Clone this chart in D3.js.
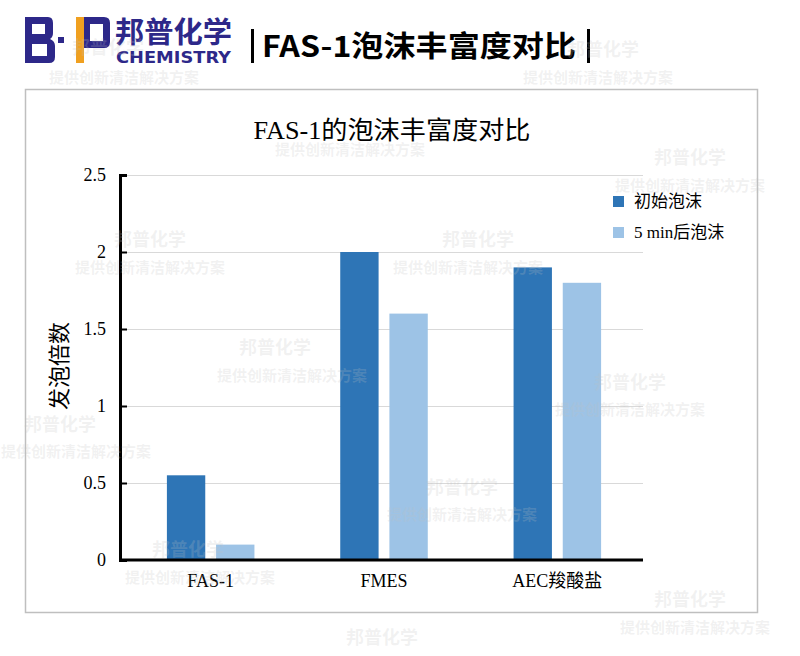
<!DOCTYPE html>
<html><head><meta charset="utf-8">
<script src="https://cdn.jsdelivr.net/npm/d3@7/dist/d3.min.js"></script>
<style>body{margin:0;background:#fff}svg{display:block}</style>
</head><body><svg id="c" width="800" height="656"></svg>
<script>
const categories = ["FAS-1", "FMES", "AEC羧酸盐"];
const seriesNames = ["初始泡沫", "5 min后泡沫"];
const initialFoam = [0.55, 2.0, 1.9];
const foamAfter5min = [0.1, 1.6, 1.8];
const yTicks = [0, 0.5, 1, 1.5, 2, 2.5];
const yTickLabels = ["0", "0.5", "1", "1.5", "2", "2.5"];
const colors = ["#2e75b6", "#9dc3e6"];

(function () {
const svg = d3.select("#c");
const serif = "'Liberation Serif','Times New Roman','Noto Sans CJK SC',serif";
const sans = "'Noto Sans CJK SC','DejaVu Sans',sans-serif";

// ---- header logo ----
const navy = "#2d2889";
svg.append("path").attr("fill", navy).attr("fill-rule", "evenodd")
  .attr("d", "M25,17 H48 Q53,17 53,23 V33 Q53,37 50,39 Q55,41 55,46 V57 Q55,63 49,63 H25 Z M32,24 V34 H45 V24 Z M32,44 V56 H47 V44 Z");
svg.append("rect").attr("x", 58).attr("y", 37).attr("width", 6).attr("height", 6).attr("fill", navy);
svg.append("rect").attr("x", 76).attr("y", 17).attr("width", 8).attr("height", 46).attr("fill", "#f0a020");
svg.append("path").attr("fill", navy).attr("fill-rule", "evenodd")
  .attr("d", "M84,17 H104 Q110,17 110,23 V42 Q110,48 104,48 H84 Z M90,24 V41 H103 V24 Z");
svg.append("text").attr("x", 115).attr("y", 43).attr("font-family", sans).attr("font-weight", "bold")
  .attr("font-size", 29).attr("fill", navy).attr("textLength", 117).attr("lengthAdjust", "spacingAndGlyphs").text("邦普化学");
svg.append("text").attr("x", 116).attr("y", 63).attr("font-family", "'DejaVu Sans',sans-serif").attr("font-weight", "bold")
  .attr("font-size", 15).attr("fill", navy).attr("textLength", 115).attr("lengthAdjust", "spacingAndGlyphs").text("CHEMISTRY");
// header title
svg.append("rect").attr("x", 251).attr("y", 29).attr("width", 3).attr("height", 34).attr("fill", "#000");
svg.append("rect").attr("x", 587).attr("y", 29).attr("width", 3).attr("height", 34).attr("fill", "#000");
svg.append("text").attr("x", 262).attr("y", 57).attr("font-family", sans).attr("font-weight", "bold")
  .attr("font-size", 29).attr("fill", "#000").attr("textLength", 314).attr("lengthAdjust", "spacingAndGlyphs")
  .text("FAS-1泡沫丰富度对比");

// ---- frame ----
svg.append("rect").attr("x", 25.5).attr("y", 89.5).attr("width", 732).attr("height", 523)
  .attr("fill", "none").attr("stroke", "#bfbfbf").attr("stroke-width", 1.5);

// ---- chart ----
const pLeft = 120, pRight = 643, pTop = 175, pBottom = 560;
const y = d3.scaleLinear().domain([0, 2.5]).range([pBottom, pTop]);
const x0 = d3.scaleBand().domain(categories).range([pLeft + 4, pRight + 1]).paddingInner(0.495).paddingOuter(0.2475);
const x1 = d3.scaleBand().domain(seriesNames).range([0, x0.bandwidth()]).paddingInner(0.22);

// gridlines
svg.append("g").selectAll("line").data(yTicks.filter(d => d > 0)).join("line")
  .attr("x1", pLeft).attr("x2", pRight).attr("y1", d => y(d) + 0.5).attr("y2", d => y(d) + 0.5)
  .attr("stroke", "#d9d9d9").attr("stroke-width", 1);

// bars
const data = categories.map((c, i) => ({ c, vals: [initialFoam[i], foamAfter5min[i]] }));
svg.append("g").selectAll("g").data(data).join("g")
  .attr("transform", d => `translate(${x0(d.c)},0)`)
  .selectAll("rect").data(d => d.vals.map((v, j) => ({ v, s: seriesNames[j], j }))).join("rect")
  .attr("x", d => x1(d.s)).attr("width", x1.bandwidth())
  .attr("y", d => y(d.v)).attr("height", d => pBottom - y(d.v))
  .attr("fill", d => colors[d.j]);

// y axis
const yAxis = d3.axisLeft(y).tickValues(yTicks).tickFormat((d, i) => yTickLabels[i]).tickSize(-7).tickPadding(14);
const ya = svg.append("g").attr("transform", `translate(${pLeft},0)`).call(yAxis);
ya.select(".domain").attr("stroke", "#000").attr("stroke-width", 3);
ya.selectAll(".tick line").attr("stroke", "#000").attr("stroke-width", 2);
ya.selectAll(".tick text").attr("font-family", serif).attr("font-size", 18).attr("fill", "#000");

// x axis
const xAxis = d3.axisBottom(x0).tickSize(0).tickPadding(14);
const xa = svg.append("g").attr("transform", `translate(0,${pBottom})`).call(xAxis);
xa.select(".domain").attr("stroke", "#000").attr("stroke-width", 3).attr("d", `M${pLeft},0H${pRight}`);
xa.selectAll(".tick text").attr("font-family", serif).attr("font-size", 18).attr("fill", "#000");

// title
svg.append("text").attr("x", 392).attr("y", 139).attr("text-anchor", "middle")
  .attr("font-family", serif).attr("font-size", 25).attr("fill", "#000")
  .attr("textLength", 277).attr("lengthAdjust", "spacingAndGlyphs").text("FAS-1的泡沫丰富度对比");

// y label
svg.append("text").attr("transform", "translate(67,366) rotate(-90)").attr("text-anchor", "middle")
  .attr("font-family", serif).attr("font-size", 22).attr("fill", "#000").text("发泡倍数");

// legend
const lg = svg.append("g").selectAll("g").data(seriesNames).join("g")
  .attr("transform", (d, i) => `translate(613,${196 + i * 31})`);
lg.append("rect").attr("width", 11).attr("height", 11).attr("fill", (d, i) => colors[i]);
lg.append("text").attr("x", 21).attr("y", 11).attr("font-family", serif).attr("font-size", 17)
  .attr("fill", "#000").text(d => d);

// watermarks
const wmBrand = [[108,48],[603,50],[690,158],[150,240],[478,240],[275,348],[630,383],[60,425],[462,488],[188,550],[690,600],[382,638]];
const wmSlogan = [[124,78],[598,78],[350,150],[690,186],[150,268],[468,268],[292,376],[630,410],[76,452],[462,515],[200,578],[695,628]];
const wm = svg.append("g").attr("font-family", sans).attr("font-weight", "bold")
  .attr("fill", "#c0c0c0").attr("fill-opacity", 0.22).attr("text-anchor", "middle");
wm.selectAll(".b").data(wmBrand).join("text").attr("x", d => d[0]).attr("y", d => d[1] + 6)
  .attr("font-size", 18).text("邦普化学");
wm.selectAll(".s").data(wmSlogan).join("text").attr("x", d => d[0]).attr("y", d => d[1] + 5)
  .attr("font-size", 15).text("提供创新清洁解决方案");
})();
</script></body></html>
